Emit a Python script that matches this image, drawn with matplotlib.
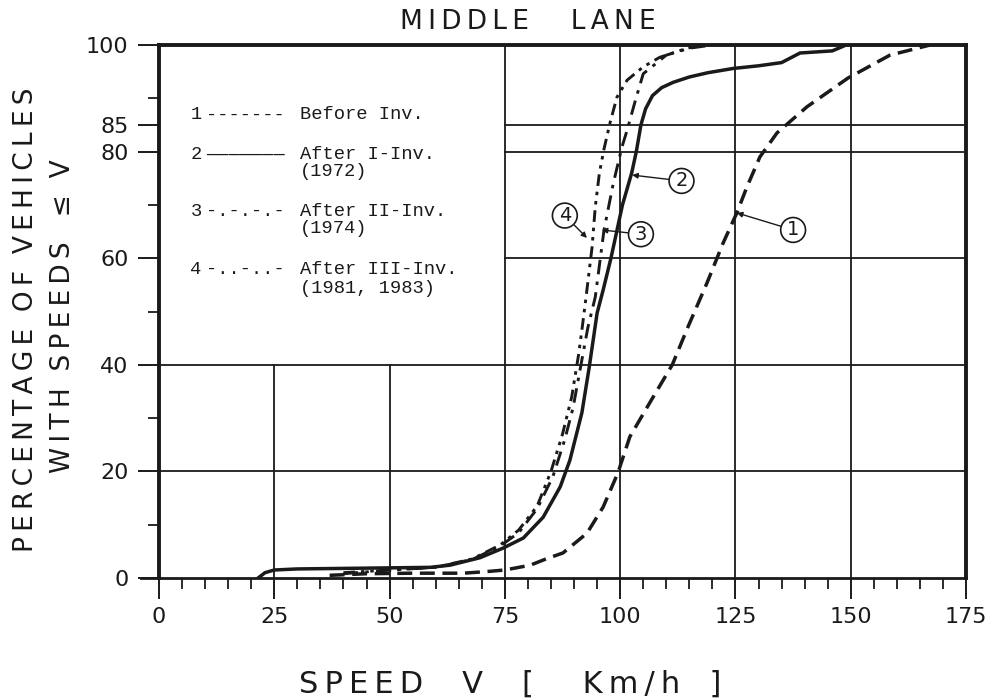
import matplotlib
matplotlib.use("Agg")
import matplotlib.pyplot as plt
from matplotlib.ticker import FixedLocator

# ---------------- data ----------------
# Curve 1: Before Inv.
speed_1 = [37, 45, 55, 66, 71, 75, 80.5, 84, 87.6, 92.8, 96.3, 99.5, 102.1, 106.5,
           111.3, 114.7, 118.8, 122.3, 125.3, 127.5, 130.3, 134, 140.5, 149.4, 158.5, 167.2]
pct_1 = [0.5, 0.8, 0.9, 0.9, 1.2, 1.5, 2.4, 3.6, 4.7, 8.4, 13.3, 19.7, 26.5, 33,
         40, 47.1, 55.3, 62.8, 68.5, 73.4, 79, 83.5, 88.4, 93.8, 98.1, 100]
# Curve 2: After I-Inv. (1972)
speed_2 = [21.5, 23, 25, 30, 40, 50, 58.8, 63.1, 69.6, 74.6, 79, 83.3, 87, 89.1, 91.7,
           93.3, 95, 96.3, 98, 100.5, 102.5, 103.5, 104.5, 105.5, 107, 109, 111.5, 115,
           119, 124.5, 130, 135, 139, 146, 149]
pct_2 = [0, 1.0, 1.5, 1.7, 1.8, 1.9, 2.0, 2.4, 3.8, 5.6, 7.5, 11.4, 17.1, 22.1, 31,
         39.6, 49.7, 54, 60, 70, 76, 80, 85, 88, 90.5, 92, 93, 94,
         94.8, 95.6, 96.1, 96.7, 98.5, 98.9, 100]
# Curve 3: After II-Inv. (1974)
speed_3 = [40, 50, 60, 68, 74, 78, 82, 85.4, 88, 89.8, 91.5, 93, 94.6, 96.5, 98.5,
           100.4, 101.5, 103.2, 105, 110, 115, 120]
pct_3 = [0.8, 1.5, 2, 3.5, 6, 8.5, 13, 19, 26, 32, 40, 47, 52.7, 65.3, 74,
         80.9, 84, 89.3, 94.6, 98.1, 99.4, 100]
# Curve 4: After III-Inv. (1981, 1983)
speed_4 = [40, 50, 60, 68, 74, 78, 82, 85, 87.5, 89.5, 91, 91.7, 92.6, 93.9, 94.6,
           95.5, 96.5, 97.8, 99.3, 101.5, 105, 108.6, 114.5, 118]
pct_4 = [1, 1.5, 2, 3.6, 6.2, 9, 13.5, 20, 27, 34, 42, 46.5, 52.7, 62, 69.6,
         76, 80.5, 85.4, 90.2, 93.4, 95.9, 97.7, 99.4, 100]

x_major = [0, 25, 50, 75, 100, 125, 150, 175]
y_major = [0, 20, 40, 60, 80, 85, 100]
y_minor = [10, 30, 50, 70, 90]
x_minor = [v for v in range(0, 176, 5) if v % 25 != 0]

legend_nums = ["1", "2", "3", "4"]
legend_marks = ["-------", "\u2014\u2014\u2014\u2014\u2014\u2014\u2014", "-.-.-.-", "-..-..-"]
legend_text = ["Before Inv.", "After I-Inv.", "After II-Inv.", "After III-Inv."]
legend_sub = ["", "(1972)", "(1974)", "(1981, 1983)"]

# annotation: (label, point on curve, circle position)
ann_labels = ["1", "2", "3", "4"]
ann_points = [(125.3, 68.5), (102.6, 75.6), (96.0, 65.3), (92.8, 63.8)]
ann_circles = [(137.5, 65.3), (113.3, 74.5), (104.5, 64.5), (88.0, 68.0)]

# ---------------- figure ----------------
ink = "#1a1a1a"
TS = "\u2009"  # thin space for letter-spaced lettering


def spaced(s):
    return TS.join(s)


fig = plt.figure(figsize=(9.9, 7.0), dpi=100)
ax = fig.add_axes([0.1606, 0.1743, 0.8152, 0.7614])
ax.set_xlim(0, 175)
ax.set_ylim(0, 100)

# grid lines (partial, leaving the legend area blank)
gkw = dict(color=ink, lw=1.3, zorder=1)
for yv in (20, 40):
    ax.plot([0, 175], [yv, yv], **gkw)
for yv in (60, 80, 85):
    ax.plot([75, 175], [yv, yv], **gkw)
for xv in (25, 50):
    ax.plot([xv, xv], [0, 40], **gkw)
for xv in (75, 100, 125, 150):
    ax.plot([xv, xv], [0, 100], **gkw)
# short stub of the speed axis left of zero
ax.plot([-4, 0], [0, 0], color=ink, lw=2.0, clip_on=False)

# curves
ax.plot(speed_1, pct_1, color=ink, lw=2.5, linestyle=(0, (4.3, 2.2)), zorder=3)
ax.plot(speed_2, pct_2, color=ink, lw=2.5, linestyle="-", zorder=3)
ax.plot(speed_3, pct_3, color=ink, lw=2.1, linestyle=(0, (5, 2.5, 1.2, 2.5)), zorder=3)
ax.plot(speed_4, pct_4, color=ink, lw=2.1, linestyle=(0, (4, 2, 1.2, 2, 1.2, 2)), zorder=3)

# spines
for s in ("left", "top", "right"):
    ax.spines[s].set_linewidth(2.8)
    ax.spines[s].set_color(ink)
ax.spines["bottom"].set_linewidth(2.0)
ax.spines["bottom"].set_color(ink)

# ticks
ax.xaxis.set_major_locator(FixedLocator(x_major))
ax.xaxis.set_minor_locator(FixedLocator(x_minor))
ax.yaxis.set_major_locator(FixedLocator(y_major))
ax.yaxis.set_minor_locator(FixedLocator(y_minor))
ax.tick_params(axis="both", which="major", direction="out", length=15, width=1.4,
               color=ink, labelsize=16, labelcolor=ink)
ax.tick_params(axis="both", which="minor", direction="out", length=8, width=1.3, color=ink)
ax.tick_params(axis="x", which="major", pad=6)
ax.tick_params(axis="y", which="major", pad=7)
ax.set_xticklabels([str(v) for v in x_major])
ax.set_yticklabels([str(v) for v in y_major])

# labels
title = spaced("MIDDLE") + "     " + spaced("LANE")
fig.text(528 / 990, 1 - 22 / 700, title, fontsize=19, color=ink, ha="center", va="center")
xlab = (spaced("SPEED") + "    V    [     " + spaced("Km/h") + "   ]")
fig.text(510 / 990, 1 - 684 / 700, xlab, fontsize=22, color=ink, ha="center", va="center")
ylab1 = spaced("PERCENTAGE") + "  " + spaced("OF") + "  " + spaced("VEHICLES")
ylab2 = spaced("WITH") + "  " + spaced("SPEEDS") + "   \u2264  V"
fig.text(26 / 990, 1 - 320 / 700, ylab1, rotation=90, fontsize=19,
         color=ink, ha="center", va="center")
fig.text(63 / 990, 1 - 316 / 700, ylab2, rotation=90, fontsize=19,
         color=ink, ha="center", va="center")

# legend as typed text
leg_y = [86.9, 79.4, 68.7, 57.8]
sub_y = [0, 76.2, 65.5, 54.4]
lkw = dict(family="Liberation Mono", fontsize=13.5, color=ink, va="center")
for n, m, t, s, yy, sy in zip(legend_nums, legend_marks, legend_text, legend_sub, leg_y, sub_y):
    ax.text(6.8, yy, n, **lkw)
    ax.text(10.2, yy, m, **lkw)
    ax.text(30.5, yy, t, **lkw)
    if s:
        ax.text(30.5, sy, s, **lkw)

# circled labels
for lab, pt, cc in zip(ann_labels, ann_points, ann_circles):
    ax.annotate(lab, xy=pt, xytext=cc, fontsize=14, color=ink, ha="center", va="center",
                bbox=dict(boxstyle="circle,pad=0.15", fc="white", ec=ink, lw=1.2),
                arrowprops=dict(arrowstyle="-|>", color=ink, lw=1.0, mutation_scale=8,
                                shrinkA=0, shrinkB=0),
                zorder=5)

fig.savefig("out.png", dpi=100, facecolor="white")
